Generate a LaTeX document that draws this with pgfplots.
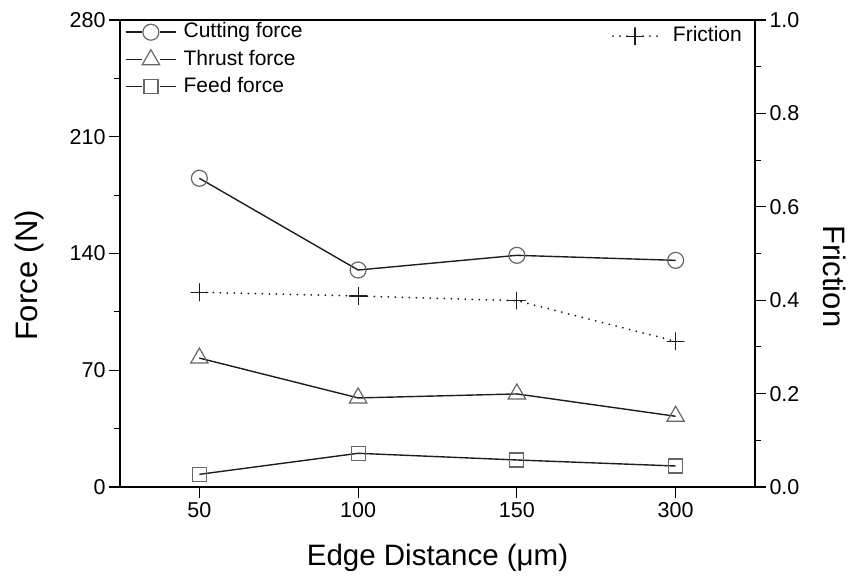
\documentclass[border=0pt]{standalone}
\usepackage{pgfplots}
\pgfplotsset{compat=1.18}
\usepackage{fontspec}
\setmainfont{Liberation Sans}
\definecolor{mk}{HTML}{666666}
\definecolor{ln}{HTML}{1E1E1E}
\begin{document}
\begin{tikzpicture}
\pgfplotsset{
  base/.style={
    scale only axis, width=635bp, height=467bp,
    xmin=-0.5, xmax=3.5,
    tick align=outside,
    major tick length=11bp, minor tick length=6bp,
    every tick/.style={black, line width=1.1bp},
    axis line style={black, line width=1.1bp},
    tick label style={font=\fontsize{21.5bp}{25bp}\selectfont},
    /pgf/number format/assume math mode=true,
    clip=false,
  },
  lg/.style={
    draw=none, fill=none, inner sep=0pt, row sep=8bp,
    font=\fontsize{21bp}{25bp}\selectfont,
    nodes={inner sep=0pt, text height=15bp, text depth=4bp},
    legend cell align=left,
  },
}
\begin{axis}[base,
  ymin=0, ymax=280, ytick={0,70,140,210,280}, minor ytick={35,105,175,245},
  xtick={0,1,2,3}, xticklabels={50,100,150,300},
  xtick pos=lower, ytick pos=left,
  xticklabel style={yshift=-1bp},
  every axis x label/.style={at={(axis description cs:0.5,-0.169)}, anchor=base,
     font=\fontsize{29.5bp}{35bp}\selectfont},
  xlabel={Edge Distance (μm)},
  every axis y label/.style={at={(axis description cs:-0.1433,0.4529)}, anchor=center, rotate=90,
     font=\fontsize{31bp}{37bp}\selectfont},
  ylabel={Force (N)},
  legend style={lg, at={(axis description cs:0.0079,1)}, anchor=north west, yshift=-2.5bp,
     /tikz/every odd column/.append style={column sep=7bp}},
  legend image code/.code={%
    \draw[#1, mark=none] (0bp,0bp) -- (16bp,0bp);
    \draw[#1, mark=none] (34bp,0bp) -- (50bp,0bp);
    \draw[#1, only marks] plot coordinates {(25bp,0bp)};},
]
\addplot[ln, line width=1.4bp, mark=o, mark size=8bp, mark options={draw=mk, fill=white, line width=1.2bp}]
  coordinates {(0,185.1) (1,130.1) (2,138.9) (3,135.9)};
\addlegendentry{Cutting force}
\addplot[ln, line width=1.4bp, mark=triangle, mark size=10bp, mark options={draw=mk, fill=white, line width=1.2bp}]
  coordinates {(0,77.3) (1,53.4) (2,55.8) (3,42.4)};
\addlegendentry{Thrust force}
\addplot[ln, line width=1.4bp, mark=square, mark size=7bp, mark options={draw=mk, fill=white, line width=1.2bp}]
  coordinates {(0,7.6) (1,20.2) (2,16.2) (3,12.6)};
\addlegendentry{Feed force}
\end{axis}
\begin{axis}[base,
  axis x line=none, axis y line*=right,
  ymin=0, ymax=1, ytick={0,0.2,0.4,0.6,0.8,1.0}, minor ytick={0.1,0.3,0.5,0.7,0.9},
  yticklabel style={/pgf/number format/.cd, fixed, fixed zerofill, precision=1},
  every axis y label/.style={at={(axis description cs:1.126,0.4507)}, anchor=center, rotate=-90,
     font=\fontsize{31bp}{37bp}\selectfont},
  ylabel={Friction},
  legend style={lg, at={(axis description cs:1,1)}, anchor=north east, xshift=-13bp, yshift=-6.5bp,
     /tikz/every odd column/.append style={column sep=15bp}},
  legend image code/.code={%
    \draw[#1, mark=none] (0bp,0bp) -- (14bp,0bp);
    \draw[#1, mark=none] (30bp,0bp) -- (44bp,0bp);
    \draw[#1, only marks] plot coordinates {(22bp,0bp)};},
]
\addplot[ln, line width=2bp, line cap=round, dash pattern=on 0bp off 7bp, mark=+, mark size=8.5bp,
  mark options={solid, draw=ln, line width=1.1bp}]
  coordinates {(0,0.417) (1,0.409) (2,0.399) (3,0.312)};
\addlegendentry{Friction}
\end{axis}
\pgfresetboundingbox
\path ([xshift=-120bp,yshift=-90bp]current axis.south west) rectangle ([xshift=108bp,yshift=20bp]current axis.north east);
\end{tikzpicture}
\end{document}
